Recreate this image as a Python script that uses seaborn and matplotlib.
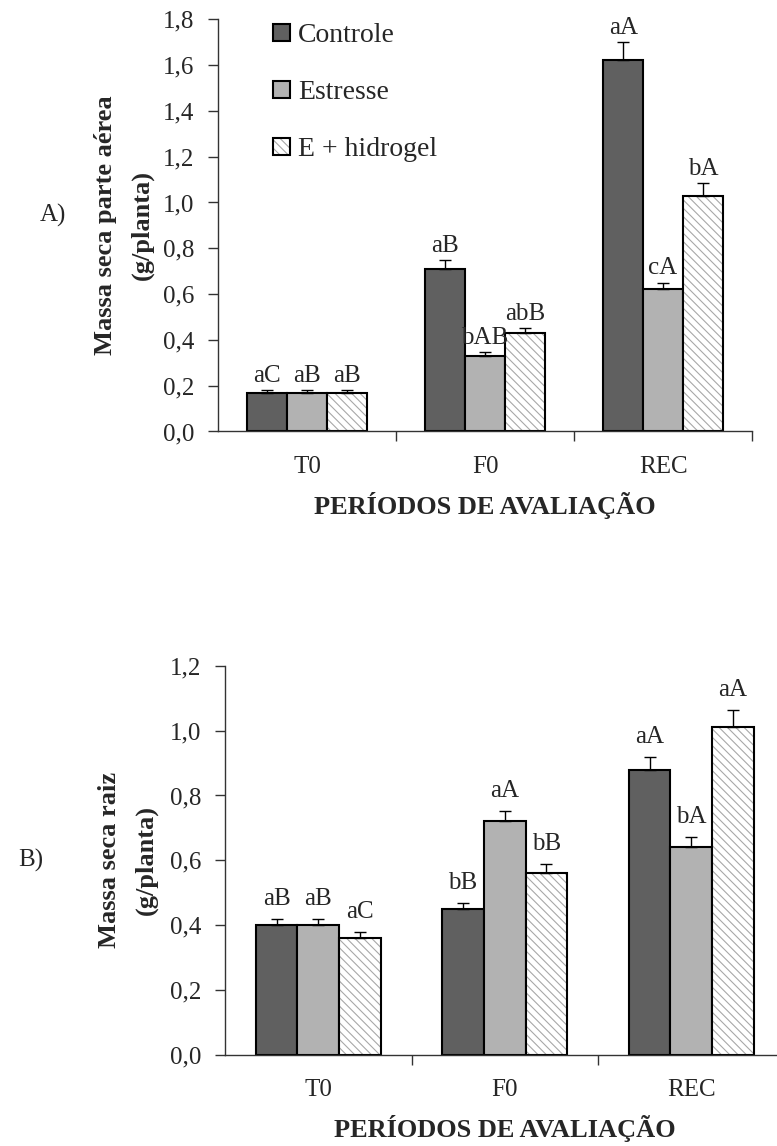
import numpy as np
import pandas as pd
import matplotlib
matplotlib.use('Agg')
import matplotlib.pyplot as plt
import matplotlib.colors as mcolors
import seaborn as sns

# dados
periodos = ['T0', 'F0', 'REC']
tratamentos = ['Controle', 'Estresse', 'E + hidrogel']

# A) massa seca parte aerea
pa_controle = [0.17, 0.71, 1.62]
pa_estresse = [0.17, 0.33, 0.62]
pa_hidrogel = [0.17, 0.43, 1.03]
pa_err_controle = [0.01, 0.038, 0.08]
pa_err_estresse = [0.01, 0.015, 0.03]
pa_err_hidrogel = [0.01, 0.02, 0.055]
pa_letras_controle = ['aC', 'aB', 'aA']
pa_letras_estresse = ['aB', 'bAB', 'cA']
pa_letras_hidrogel = ['aB', 'abB', 'bA']
pa_yticks = [0.0, 0.2, 0.4, 0.6, 0.8, 1.0, 1.2, 1.4, 1.6, 1.8]
pa_yticklabels = ['0,0', '0,2', '0,4', '0,6', '0,8', '1,0', '1,2', '1,4', '1,6', '1,8']

# B) massa seca raiz
raiz_controle = [0.40, 0.45, 0.88]
raiz_estresse = [0.40, 0.72, 0.64]
raiz_hidrogel = [0.36, 0.56, 1.01]
raiz_err_controle = [0.02, 0.02, 0.04]
raiz_err_estresse = [0.02, 0.033, 0.032]
raiz_err_hidrogel = [0.018, 0.028, 0.053]
raiz_letras_controle = ['aB', 'bB', 'aA']
raiz_letras_estresse = ['aB', 'aA', 'bA']
raiz_letras_hidrogel = ['aC', 'bB', 'aA']
raiz_yticks = [0.0, 0.2, 0.4, 0.6, 0.8, 1.0, 1.2]
raiz_yticklabels = ['0,0', '0,2', '0,4', '0,6', '0,8', '1,0', '1,2']

cores = ['#606060', '#b2b2b2', '#ffffff']


def tabela(c, e, h):
    return pd.DataFrame({
        'periodo': periodos * 3,
        'tratamento': [t for t in tratamentos for _ in periodos],
        'massa': c + e + h,
    })


sns.set_style('ticks')
plt.rcParams['font.family'] = ['Liberation Serif', 'DejaVu Serif']
plt.rcParams['hatch.linewidth'] = 0.8


def painel(ax, df, erros, letras, yticks, yticklabels, ylabel, pad_letra, pad_x):
    sns.barplot(data=df, x='periodo', y='massa', hue='tratamento', order=periodos,
                hue_order=tratamentos, palette=cores, width=0.67, edgecolor='black',
                linewidth=1.5, errorbar=None, saturation=1, legend=False, ax=ax)
    barras = list(ax.containers)
    for k, cont in enumerate(barras):
        xs = [p.get_x() + p.get_width() / 2 for p in cont.patches]
        hs = [p.get_height() for p in cont.patches]
        ax.errorbar(xs, hs, yerr=[np.zeros(len(hs)), erros[k]], fmt='none', ecolor='black',
                    elinewidth=1, capsize=4, capthick=1, zorder=3)
        for x, h, e, t in zip(xs, hs, erros[k], letras[k]):
            ax.annotate(t, (x, h + e), xytext=(0, pad_letra), textcoords='offset points',
                        ha='center', va='baseline', fontsize=18)
        if k == 2:
            for p in cont.patches:
                p.set_hatch('\\\\\\\\')
                if hasattr(p, 'set_hatchcolor'):
                    p.set_hatchcolor('#a8a8a8')
                else:
                    p._hatch_color = mcolors.to_rgba('#a8a8a8')
    ax.set_xlim(-0.5, 2.5)
    ax.set_ylim(yticks[0], yticks[-1])
    ax.set_yticks(yticks)
    ax.set_yticklabels(yticklabels, fontsize=18)
    ax.set_xticks([0, 1, 2])
    ax.set_xticklabels(periodos, fontsize=18)
    ax.set_xticks([0.5, 1.5, 2.5], minor=True)
    ax.tick_params(axis='x', which='major', length=0, pad=pad_x)
    ax.tick_params(axis='x', which='minor', length=7, width=1, direction='out', color='#333333')
    ax.tick_params(axis='y', length=7, width=1, direction='out', pad=10, color='#333333')
    sns.despine(ax=ax)
    for s in ['left', 'bottom']:
        ax.spines[s].set_color('#333333')
        ax.spines[s].set_linewidth(1)
    ax.set_xlabel('PERÍODOS DE AVALIAÇÃO', fontsize=19, fontweight='bold', labelpad=10)
    ax.set_ylabel(ylabel, fontsize=19, fontweight='bold', linespacing=1.75)
    return barras


fig = plt.figure(figsize=(7.77, 11.46), dpi=100)
ax1 = fig.add_axes([0.2806, 0.6235, 0.6873, 0.3597])
ax2 = fig.add_axes([0.2896, 0.0794, 0.7201, 0.3397])

barras = painel(ax1, tabela(pa_controle, pa_estresse, pa_hidrogel),
                [pa_err_controle, pa_err_estresse, pa_err_hidrogel],
                [pa_letras_controle, pa_letras_estresse, pa_letras_hidrogel],
                pa_yticks, pa_yticklabels, 'Massa seca parte aérea\n(g/planta)', 6, 18)
ax1.yaxis.set_label_coords(-0.12, 0.5)

painel(ax2, tabela(raiz_controle, raiz_estresse, raiz_hidrogel),
       [raiz_err_controle, raiz_err_estresse, raiz_err_hidrogel],
       [raiz_letras_controle, raiz_letras_estresse, raiz_letras_hidrogel],
       raiz_yticks, raiz_yticklabels, 'Massa seca raiz\n(g/planta)', 10, 17)
ax2.yaxis.set_label_coords(-0.12, 0.5)

ax1.legend(barras, tratamentos, loc='upper left', bbox_to_anchor=(0.103, 0.99),
           frameon=False, fontsize=20, labelspacing=1.15, handlelength=0.6,
           handleheight=0.6, handletextpad=0.3, borderpad=0, borderaxespad=0)

fig.text(40 / 777, 1 - 215 / 1146, 'A)', fontsize=18, ha='left', va='center')
fig.text(18 / 777, 1 - 860 / 1146, 'B)', fontsize=18, ha='left', va='center')

fig.savefig('out.png', dpi=100)
